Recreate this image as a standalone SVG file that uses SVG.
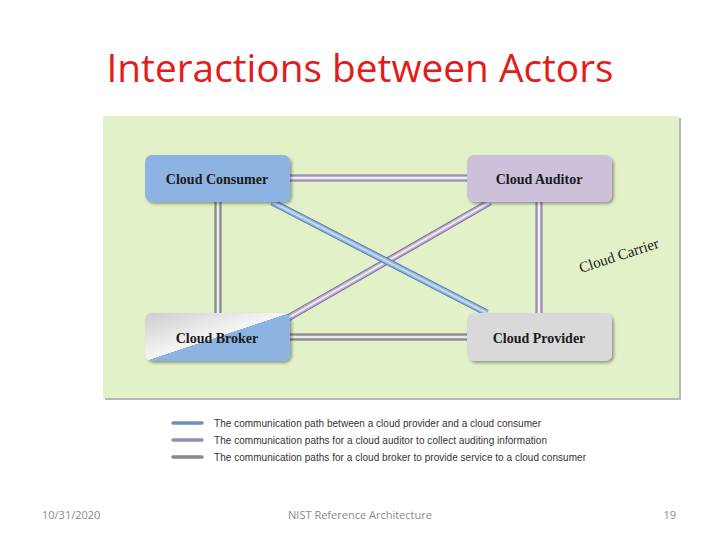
<svg xmlns="http://www.w3.org/2000/svg" width="720" height="540" viewBox="0 0 720 540">
<defs>
<style>
.node-label{font-family:"Liberation Serif",serif;font-weight:bold;font-size:14px;fill:#1a1a1a;text-anchor:middle}
.legend{font-family:"Liberation Sans",sans-serif;font-size:10px;fill:#333}
.footer{font-family:"Open Sans","Liberation Sans",sans-serif;font-size:11px;fill:#8a8a8a}
.po-gray{stroke:#6e6e6e;stroke-width:7;fill:none}
.pm-gray{stroke:#a8a8a8;stroke-width:5;fill:none}
.pi-gray{stroke:#ececec;stroke-width:2;fill:none}
.po-purple{stroke:#7d7196;stroke-width:7;fill:none}
.pm-purple{stroke:#b9aed0;stroke-width:5;fill:none}
.pi-purple{stroke:#f3ecf8;stroke-width:2;fill:none}
.po-blue{stroke:#587fb2;stroke-width:7;fill:none}
.pm-blue{stroke:#8fb2df;stroke-width:5;fill:none}
.pi-blue{stroke:#c6dbf3;stroke-width:2;fill:none}
</style>
<filter id="sh" x="-10%" y="-10%" width="125%" height="130%">
<feDropShadow dx="2" dy="2" stdDeviation="1.5" flood-color="#000" flood-opacity="0.35"/>
</filter>
<linearGradient id="brokerGrad" x1="0" y1="0" x2="1" y2="1" gradientUnits="objectBoundingBox">
<stop offset="0" stop-color="#cdcdcd"/>
<stop offset="0.5" stop-color="#f6f6f6"/>
<stop offset="0.5" stop-color="#8db3e2"/>
<stop offset="1" stop-color="#8db3e2"/>
</linearGradient>
</defs>
<rect width="720" height="540" fill="#fff"/>
<text x="360" y="82" text-anchor="middle" font-family="Open Sans, Liberation Sans, sans-serif" font-size="38.8" fill="#e31b1b">Interactions between Actors</text>
<g id="panel">
<rect x="105" y="118" width="576" height="282" fill="#b8b8b8"/>
<rect x="103" y="116" width="576" height="282" fill="#e3f1c9"/>
</g>
<g id="connectors">
<g class="po-purple"><line x1="290" y1="178" x2="467" y2="178"/><line x1="539" y1="202" x2="539" y2="313"/><line x1="288" y1="318" x2="490" y2="202"/></g>
<g class="pm-purple"><line x1="290" y1="178" x2="467" y2="178"/><line x1="539" y1="202" x2="539" y2="313"/><line x1="288" y1="318" x2="490" y2="202"/></g>
<g class="pi-purple"><line x1="290" y1="178" x2="467" y2="178"/><line x1="539" y1="202" x2="539" y2="313"/><line x1="288" y1="318" x2="490" y2="202"/></g>
<g class="po-gray"><line x1="218" y1="202" x2="218" y2="313"/><line x1="290" y1="337" x2="467" y2="337"/></g>
<g class="pm-gray"><line x1="218" y1="202" x2="218" y2="313"/><line x1="290" y1="337" x2="467" y2="337"/></g>
<g class="pi-gray"><line x1="218" y1="202" x2="218" y2="313"/><line x1="290" y1="337" x2="467" y2="337"/></g>
<line x1="272" y1="202" x2="487" y2="313" class="po-blue"/>
<line x1="272" y1="202" x2="487" y2="313" class="pm-blue"/>
<line x1="272" y1="202" x2="487" y2="313" class="pi-blue"/>
</g>
<g id="cloud-consumer">
<rect x="145" y="155" width="145" height="47" rx="7" fill="#8db3e2" filter="url(#sh)"/>
<text x="217" y="184" class="node-label">Cloud Consumer</text>
</g>
<g id="cloud-auditor">
<rect x="467" y="155" width="145" height="47" rx="7" fill="#ccc0da" filter="url(#sh)"/>
<text x="539" y="184" class="node-label">Cloud Auditor</text>
</g>
<g id="cloud-broker">
<rect x="145" y="313" width="145" height="48" rx="7" fill="url(#brokerGrad)" filter="url(#sh)"/>
<text x="217" y="343" class="node-label">Cloud Broker</text>
</g>
<g id="cloud-provider">
<rect x="467" y="313" width="145" height="48" rx="7" fill="#d9d9d9" filter="url(#sh)"/>
<text x="539" y="343" class="node-label">Cloud Provider</text>
</g>
<text x="0" y="0" transform="translate(581,273) rotate(-18)" font-family="Liberation Serif, serif" font-size="15" fill="#1a1a1a">Cloud Carrier</text>
<g id="legend">
<line x1="173" y1="423" x2="202" y2="423" stroke="#6f8fbf" stroke-width="3.5" stroke-linecap="round"/>
<line x1="173" y1="440" x2="202" y2="440" stroke="#978ab3" stroke-width="3.5" stroke-linecap="round"/>
<line x1="173" y1="457" x2="202" y2="457" stroke="#8a8a8a" stroke-width="3.5" stroke-linecap="round"/>
<text x="214" y="427" class="legend" textLength="327">The communication path between a cloud provider and a cloud consumer</text>
<text x="214" y="444" class="legend" textLength="333">The communication paths for a cloud auditor to collect auditing information</text>
<text x="214" y="461" class="legend" textLength="372">The communication paths for a cloud broker to provide service to a cloud consumer</text>
</g>
<g id="footer">
<text x="42" y="519" class="footer">10/31/2020</text>
<text x="360" y="519" class="footer" text-anchor="middle">NIST Reference Architecture</text>
<text x="676" y="519" class="footer" text-anchor="end">19</text>
</g>
</svg>
